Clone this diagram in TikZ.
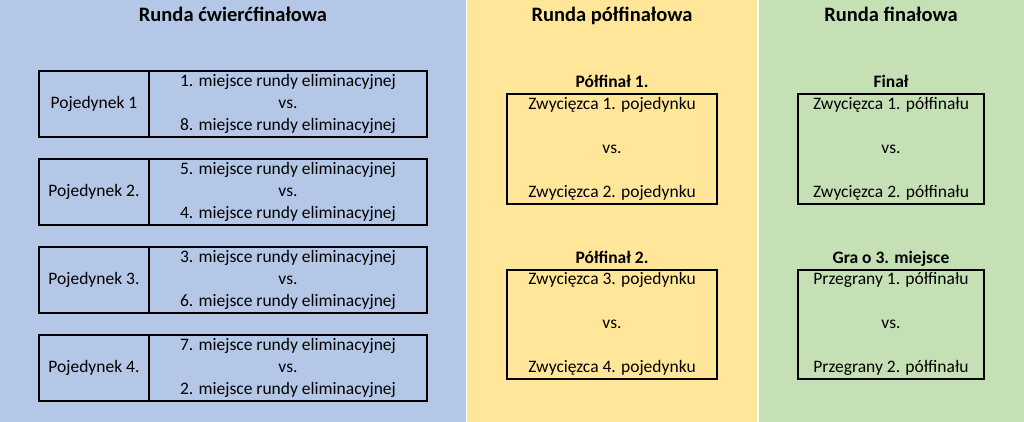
\documentclass[tikz,border=0pt]{standalone}
\usepackage{fontspec}
\setmainfont{Carlito}
\usetikzlibrary{positioning}
\definecolor{qfblue}{HTML}{B4C7E7}
\definecolor{sfyellow}{HTML}{FFE699}
\definecolor{fgreen}{HTML}{C5E0B4}
\tikzset{
  cell/.style = {draw, line width = 2pt, outer sep = 0pt, inner sep = 0pt,
                 align = center, minimum height = 66pt,
                 font = \fontsize{17.5}{21.7}\selectfont},
  pairbox/.style = {draw, line width = 2pt, outer sep = 0pt, inner sep = 0pt,
                    align = center, minimum height = 109pt,
                    font = \fontsize{17.5}{44}\selectfont},
  roundtitle/.style = {anchor = base, font = \fontsize{20.5}{24}\selectfont\bfseries},
  gametitle/.style = {anchor = base, font = \fontsize{17.5}{21}\selectfont\bfseries}
}
\begin{document}
\begin{tikzpicture}[x = 1pt, y = -1pt]
\fill[white] (0, 0) rectangle (1024, 422);
\fill[qfblue] (0, 0) rectangle (465.5, 422);
\fill[sfyellow] (467, 0) rectangle (757, 422);
\fill[fgreen] (758.5, 0) rectangle (1024, 422);
\node[roundtitle] (qf) at (233, 22) {Runda ćwierćfinałowa};
\node[roundtitle] (sf) at (612, 22) {Runda półfinałowa};
\node[roundtitle] (fin) at (891, 22) {Runda finałowa};
% quarter finals
\foreach \i/\a/\b/\lab in {1/1/8/Pojedynek 1, 2/5/4/Pojedynek 2., 3/3/6/Pojedynek 3., 4/7/2/Pojedynek 4.} {
  \node[cell, minimum width = 110pt] (duel\i) at (94, 16 + 88*\i) {\lab};
  \node[cell, minimum width = 278pt, right = 0pt of duel\i] (match\i)
       {\a. miejsce rundy eliminacyjnej\\vs.\\\b. miejsce rundy eliminacyjnej};
}
% semi finals
\node[gametitle] (sf1t) at (612, 88) {Półfinał 1.};
\node[pairbox, minimum width = 210pt] (sf1) at (612, 149)
     {Zwycięzca 1. pojedynku\\vs.\\Zwycięzca 2. pojedynku};
\node[gametitle] (sf2t) at (612, 263) {Półfinał 2.};
\node[pairbox, minimum width = 210pt] (sf2) at (612, 324)
     {Zwycięzca 3. pojedynku\\vs.\\Zwycięzca 4. pojedynku};
% finals
\node[gametitle] (finalt) at (891, 88) {Finał};
\node[pairbox, minimum width = 186pt] (final) at (891, 149)
     {Zwycięzca 1. półfinału\\vs.\\Zwycięzca 2. półfinału};
\node[gametitle] (thirdt) at (891, 263) {Gra o 3. miejsce};
\node[pairbox, minimum width = 186pt] (third) at (891, 324)
     {Przegrany 1. półfinału\\vs.\\Przegrany 2. półfinału};
\end{tikzpicture}
\end{document}
